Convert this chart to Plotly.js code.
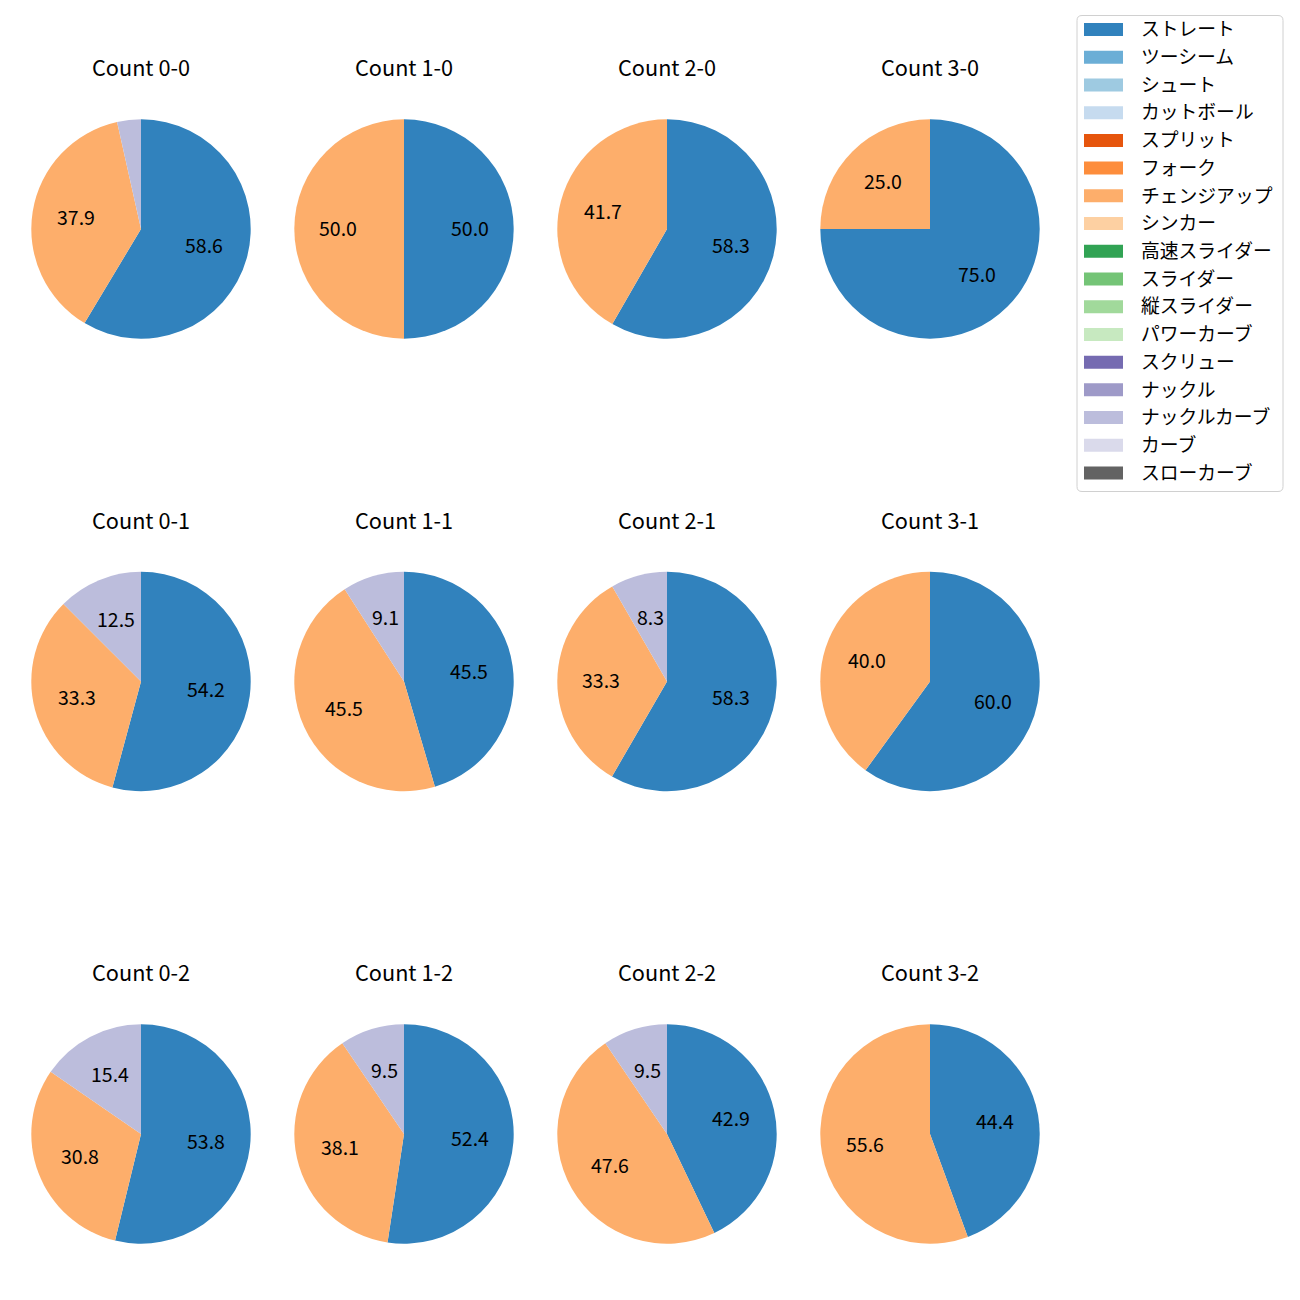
<!DOCTYPE html>
<html>
<head>
<meta charset="utf-8">
<script src="https://cdn.plot.ly/plotly-3.0.1.min.js"></script>
<style>html,body{margin:0;padding:0;background:#fff;}</style>
</head>
<body>
<div id="chart" style="width:1300px;height:1300px;"></div>
<script>
// ---- data ----
const pitchTypes = ['ストレート','ツーシーム','シュート','カットボール','スプリット','フォーク','チェンジアップ','シンカー','高速スライダー','スライダー','縦スライダー','パワーカーブ','スクリュー','ナックル','ナックルカーブ','カーブ','スローカーブ'];
const pitchColors = ['#3182bd','#6baed6','#9ecae1','#c6dbef','#e6550d','#fd8d3c','#fdae6b','#fdd0a2','#31a354','#74c476','#a1d99b','#c7e9c0','#756bb1','#9e9ac8','#bcbddc','#dadaeb','#636363'];
const countLabels = ['0-0','1-0','2-0','3-0','0-1','1-1','2-1','3-1','0-2','1-2','2-2','3-2'];
const straightPct     = [58.6, 50.0, 58.3, 75.0, 54.2, 45.5, 58.3, 60.0, 53.8, 52.4, 42.9, 44.4];
const changeupPct     = [37.9, 50.0, 41.7, 25.0, 33.3, 45.5, 33.3, 40.0, 30.8, 38.1, 47.6, 55.6];
const knuckleCurvePct = [ 3.5,  0.0,  0.0,  0.0, 12.5,  9.1,  8.3,  0.0, 15.4,  9.5,  9.5,  0.0];
const seriesNames = ['ストレート','チェンジアップ','ナックルカーブ'];
const seriesValues = [straightPct, changeupPct, knuckleCurvePct];

// ---- geometry (pixels) ----
const W = 1300, H = 1300;
const colX = [141, 404, 667, 930];
const rowY = [229, 681.5, 1134];
const R = 109.7;
const TITLE_OFFSET = 160.5;
const TEXT_SHIFT = 1.8;   // compensate font baseline metrics
const FONT = '"Noto Sans CJK JP", "Noto Sans", sans-serif';
const px = x => x / W;
const py = y => 1 - y / H;

const traces = [];
const annotations = [];
const shapes = [];

countLabels.forEach((c, i) => {
  const cx = colX[i % 4], cy = rowY[Math.floor(i / 4)];
  const labels = [], values = [], colors = [];
  seriesNames.forEach((n, k) => {
    const v = seriesValues[k][i];
    if (v > 0) {
      labels.push(n); values.push(v);
      colors.push(pitchColors[pitchTypes.indexOf(n)]);
    }
  });
  traces.push({
    type: 'pie', labels: labels, values: values, sort: false,
    direction: 'clockwise', rotation: 0,
    marker: {colors: colors, line: {width: 0}},
    textinfo: 'none', hoverinfo: 'label+percent', showlegend: false,
    domain: {x: [px(cx - R), px(cx + R)], y: [py(cy + R), py(cy - R)]}
  });
  const total = values.reduce((a, b) => a + b, 0);
  let cum = 0;
  values.forEach(v => {
    const th = 2 * Math.PI * (cum + v / 2) / total;
    cum += v;
    if (v < 5) return;
    annotations.push({
      xref: 'paper', yref: 'paper', showarrow: false,
      x: px(cx + 0.6 * R * Math.sin(th)), y: py(cy - 0.6 * R * Math.cos(th) - TEXT_SHIFT),
      xanchor: 'center', yanchor: 'middle',
      text: v.toFixed(1), font: {family: FONT, size: 19.5, color: '#000'}
    });
  });
  annotations.push({
    xref: 'paper', yref: 'paper', showarrow: false,
    x: px(cx), y: py(cy - TITLE_OFFSET - TEXT_SHIFT), xanchor: 'center', yanchor: 'middle',
    text: 'Count ' + c, font: {family: FONT, size: 21.7, color: '#000'}
  });
});

// ---- legend (drawn manually to match matplotlib style) ----
const LX0 = 1077, LY0 = 15.5, LX1 = 1283, LY1 = 491.5, RAD = 5;
const rr = (x, y) => px(x) + ',' + py(y);
shapes.push({
  type: 'path', xref: 'paper', yref: 'paper',
  path: 'M' + rr(LX0 + RAD, LY0) + ' L' + rr(LX1 - RAD, LY0) + ' Q' + rr(LX1, LY0) + ' ' + rr(LX1, LY0 + RAD) +
        ' L' + rr(LX1, LY1 - RAD) + ' Q' + rr(LX1, LY1) + ' ' + rr(LX1 - RAD, LY1) +
        ' L' + rr(LX0 + RAD, LY1) + ' Q' + rr(LX0, LY1) + ' ' + rr(LX0, LY1 - RAD) +
        ' L' + rr(LX0, LY0 + RAD) + ' Q' + rr(LX0, LY0) + ' ' + rr(LX0 + RAD, LY0) + ' Z',
  fillcolor: 'rgba(255,255,255,0.8)', line: {color: '#d0d0d0', width: 1}
});
const ROW0 = 29.5, ROWSTEP = 27.72;
pitchTypes.forEach((n, k) => {
  const y = ROW0 + k * ROWSTEP;
  shapes.push({
    type: 'rect', xref: 'paper', yref: 'paper',
    x0: px(1084), x1: px(1123), y0: py(y + 6.5), y1: py(y - 6.5),
    fillcolor: pitchColors[k], line: {width: 0}
  });
  annotations.push({
    xref: 'paper', yref: 'paper', showarrow: false,
    x: px(1139), y: py(y - TEXT_SHIFT), xanchor: 'left', yanchor: 'middle',
    text: n, font: {family: FONT, size: 18.8, color: '#000'}
  });
});

Plotly.newPlot('chart', traces, {
  width: W, height: H, margin: {l: 0, r: 0, t: 0, b: 0},
  paper_bgcolor: '#fff', showlegend: false,
  annotations: annotations, shapes: shapes
}, {displayModeBar: false, staticPlot: true});
</script>
</body>
</html>
